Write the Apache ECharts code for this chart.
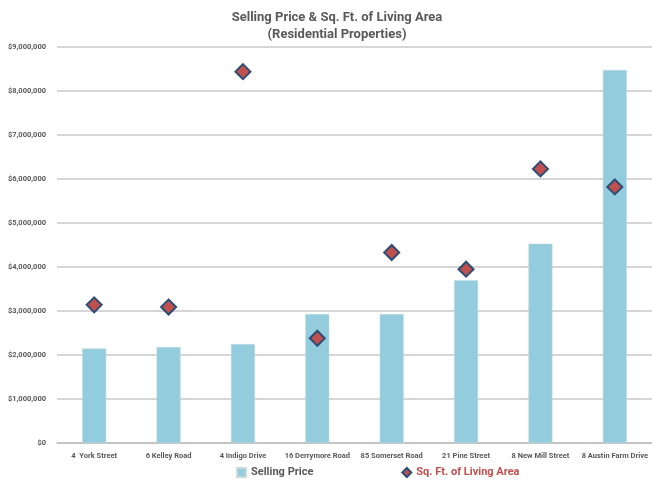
<!DOCTYPE html>
<html><head><meta charset="utf-8">
<script src="https://cdn.jsdelivr.net/npm/echarts@6/dist/echarts.min.js"></script>
<style>html,body{margin:0;padding:0;background:#fff}#c{width:652px;height:483px}</style>
</head><body><div id="c"></div>
<script>
var categories = ['4  York Street','6 Kelley Road','4 Indigo Drive','16 Derrymore Road','85 Somerset Road','21 Pine Street','8 New Mill Street','8 Austin Farm Drive'];
var sellingPrice = [2150000,2180000,2250000,2930000,2930000,3700000,4530000,8480000];
var sqFt = [3140,3090,8440,2380,4330,3950,6230,5820];
var yTicks = [0,1000000,2000000,3000000,4000000,5000000,6000000,7000000,8000000,9000000];

var font = "Roboto,'Liberation Sans',sans-serif";
var chart = echarts.init(document.getElementById('c'));
chart.setOption({
  animation:false,
  title:{text:'Selling Price & Sq. Ft. of Living Area\n(Residential Properties)',left:332,textAlign:'center',top:4,
    textStyle:{fontFamily:font,fontSize:13,fontWeight:'bold',color:'#595959',lineHeight:17}},
  grid:{left:57,width:600,top:47,bottom:40,containLabel:false},
  legend:{bottom:0,left:231,itemGap:88,itemWidth:9,itemHeight:9,
    textStyle:{fontFamily:font,fontSize:11,fontWeight:'bold'},
    data:[{name:'Selling Price',icon:'rect',textStyle:{color:'#595959'}},
          {name:'Sq. Ft. of Living Area',icon:'diamond',textStyle:{color:'#C0504D'}}]},
  xAxis:{type:'category',data:categories,
    axisLine:{lineStyle:{color:'#BFBFBF',width:1.5}},axisTick:{show:false},
    axisLabel:{interval:0,fontFamily:font,fontSize:7.5,fontWeight:'bold',color:'#595959',margin:9}},
  yAxis:[{type:'value',min:0,max:9000000,interval:1000000,
    axisLine:{show:false},axisTick:{show:false},
    splitLine:{lineStyle:{color:'#C8C8C8',width:1.5}},
    axisLabel:{fontFamily:font,fontSize:7.5,fontWeight:'bold',color:'#595959',margin:11,
      formatter:function(v){return '$'+v.toLocaleString('en-US');}}},
    {type:'value',min:0,max:9000,show:false,splitLine:{show:false}}],
  series:[
    {name:'Selling Price',type:'bar',data:sellingPrice,barWidth:24,
      itemStyle:{color:'#93CDDD',borderColor:'#C9D8DD',borderWidth:0.5}},
    {name:'Sq. Ft. of Living Area',type:'scatter',yAxisIndex:1,data:sqFt,symbol:'diamond',symbolSize:[15,15],
      itemStyle:{color:'#C0504D',borderColor:'#2C4D75',borderWidth:2,opacity:1}}
  ]
});
</script></body></html>
